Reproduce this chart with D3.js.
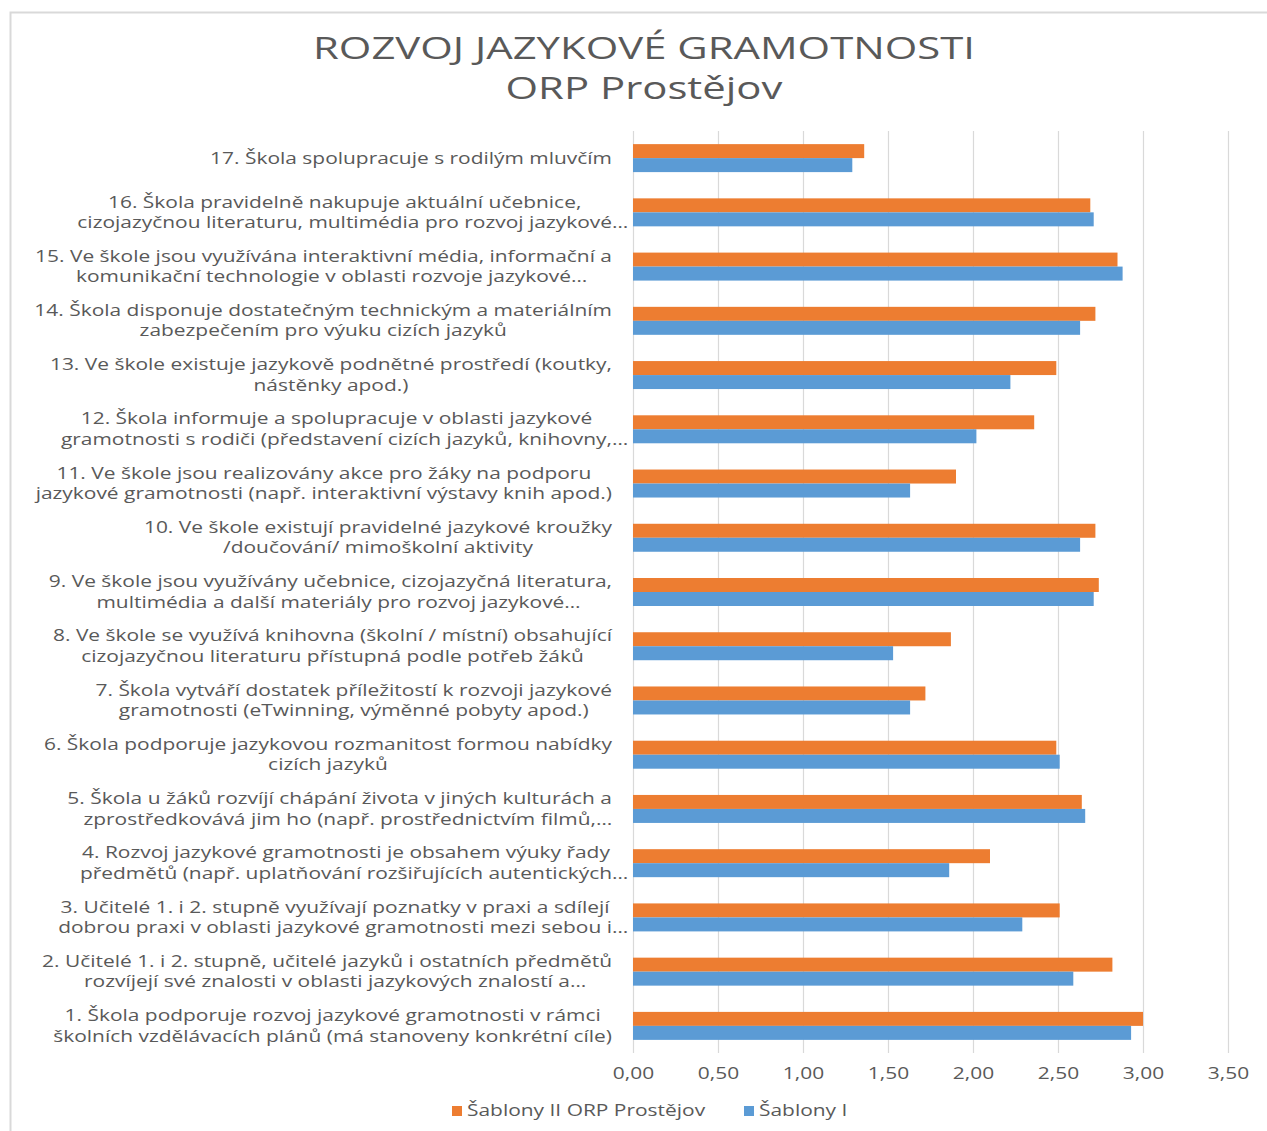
<!DOCTYPE html>
<html>
<head>
<meta charset="utf-8">
<script src="https://cdn.jsdelivr.net/npm/d3@7"></script>
<style>
  html, body { margin: 0; padding: 0; background: #ffffff; }
  svg { display: block; }
</style>
</head>
<body>
<svg id="chart" width="1267" height="1131"></svg>
<script>
// ---- data (item 1 .. item 17) ----
const categories = [
  "1. Škola podporuje rozvoj jazykové gramotnosti v rámci\nškolních vzdělávacích plánů (má stanoveny konkrétní cíle)",
  "2. Učitelé 1. i 2. stupně, učitelé jazyků i ostatních předmětů\nrozvíjejí své znalosti v oblasti jazykových znalostí a…",
  "3. Učitelé 1. i 2. stupně využívají poznatky v praxi a sdílejí\ndobrou praxi v oblasti jazykové gramotnosti mezi sebou i…",
  "4. Rozvoj jazykové gramotnosti je obsahem výuky řady\npředmětů (např. uplatňování rozšiřujících autentických…",
  "5. Škola u žáků rozvíjí chápání života v jiných kulturách a\nzprostředkovává jim ho (např. prostřednictvím filmů,…",
  "6. Škola podporuje jazykovou rozmanitost formou nabídky\ncizích jazyků",
  "7. Škola vytváří dostatek příležitostí k rozvoji jazykové\ngramotnosti (eTwinning, výměnné pobyty apod.)",
  "8. Ve škole se využívá knihovna (školní / místní) obsahující\ncizojazyčnou literaturu přístupná podle potřeb žáků",
  "9. Ve škole jsou využívány učebnice, cizojazyčná literatura,\nmultimédia a další materiály pro rozvoj jazykové…",
  "10. Ve škole existují pravidelné jazykové kroužky\n/doučování/ mimoškolní aktivity",
  "11. Ve škole jsou realizovány akce pro žáky na podporu\njazykové gramotnosti (např. interaktivní výstavy knih apod.)",
  "12. Škola informuje a spolupracuje v oblasti jazykové\ngramotnosti s rodiči (představení cizích jazyků, knihovny,…",
  "13. Ve škole existuje jazykově podnětné prostředí (koutky,\nnástěnky apod.)",
  "14. Škola disponuje dostatečným technickým a materiálním\nzabezpečením pro výuku cizích jazyků",
  "15. Ve škole jsou využívána interaktivní média, informační a\nkomunikační technologie v oblasti rozvoje jazykové…",
  "16. Škola pravidelně nakupuje aktuální učebnice,\ncizojazyčnou literaturu, multimédia pro rozvoj jazykové…",
  "17. Škola spolupracuje s rodilým mluvčím"
];
const sablonyII = [3.00, 2.82, 2.51, 2.10, 2.64, 2.49, 1.72, 1.87, 2.74, 2.72, 1.90, 2.36, 2.49, 2.72, 2.85, 2.69, 1.36];
const sablonyI  = [2.93, 2.59, 2.29, 1.86, 2.66, 2.51, 1.63, 1.53, 2.71, 2.63, 1.63, 2.02, 2.22, 2.63, 2.88, 2.71, 1.29];
const seriesNames = ["Šablony II ORP Prostějov", "Šablony I"];
const seriesColors = ["#ED7D31", "#5B9BD5"];
const tickValues = [0, 0.5, 1, 1.5, 2, 2.5, 3, 3.5];
const titleLines = ["ROZVOJ JAZYKOVÉ GRAMOTNOSTI", "ORP Prostějov"];

// ---- layout ----
const svg = d3.select("#chart");
const W = 1267, H = 1131;
const plot = { left: 633, right: 1228, top: 131, bottom: 1053 };
const textColor = "#595959";
const font = "'Open Sans', 'Noto Sans', sans-serif";
const stretchX = 1.35; // reference text is horizontally stretched

function stretch(sel, f) {
  sel.each(function () {
    const len = this.getComputedTextLength();
    d3.select(this).attr("textLength", len * f).attr("lengthAdjust", "spacingAndGlyphs");
  });
}

// chart border (extends past right/bottom edge as in the reference)
svg.append("rect")
  .attr("x", 10.5).attr("y", 12.5)
  .attr("width", W + 20).attr("height", H + 20)
  .attr("fill", "#ffffff")
  .attr("stroke", "#d9d9d9").attr("stroke-width", 2);

// title
svg.append("g").selectAll("text")
  .data(titleLines).join("text")
  .attr("x", 644)
  .attr("y", (d, i) => 48 + i * 40)
  .attr("dy", "0.35em")
  .attr("text-anchor", "middle")
  .attr("font-family", font)
  .attr("font-size", 31)
  .attr("fill", textColor)
  .text(d => d)
  .call(stretch, stretchX);

// scales
const x = d3.scaleLinear().domain([0, 3.5]).range([plot.left, plot.right]);
const y = d3.scaleBand()
  .domain(categories.slice().reverse())
  .range([plot.top, plot.bottom])
  .paddingInner(0.484)
  .paddingOuter(0.242);
const ySub = d3.scaleBand().domain([0, 1]).range([0, y.bandwidth()]);

// gridlines
const grid = svg.append("g")
  .attr("transform", `translate(0,${plot.bottom})`)
  .call(d3.axisBottom(x).tickValues(tickValues).tickSize(-(plot.bottom - plot.top)).tickFormat(""));
grid.select(".domain").remove();
grid.selectAll(".tick line").attr("stroke", "#d9d9d9").attr("stroke-width", 1.2);

// axis labels
const loc = d3.formatLocale({ decimal: ",", thousands: " ", grouping: [3], currency: ["", ""] });
const fmt = loc.format(".2f");
const ax = svg.append("g")
  .attr("transform", `translate(0,${plot.bottom})`)
  .call(d3.axisBottom(x).tickValues(tickValues).tickSize(0).tickPadding(15).tickFormat(fmt));
ax.select(".domain").remove();
ax.selectAll("text")
  .attr("font-family", font)
  .attr("font-size", 15.5)
  .attr("fill", textColor)
  .call(stretch, stretchX);

// bars
const rows = categories.map((c, i) => ({ cat: c, vals: [sablonyII[i], sablonyI[i]] }));
const rowG = svg.append("g").selectAll("g")
  .data(rows).join("g")
  .attr("transform", d => `translate(0,${y(d.cat)})`);
rowG.selectAll("rect")
  .data(d => d.vals.map((v, k) => ({ v, k })))
  .join("rect")
  .attr("x", x(0))
  .attr("y", d => ySub(d.k))
  .attr("width", d => x(d.v) - x(0))
  .attr("height", ySub.bandwidth())
  .attr("fill", d => seriesColors[d.k]);

// category labels
const labelRight = 612;
const lineGap = 20.5;
const labG = svg.append("g");
// width of the ellipsis glyph (Excel centres lines without it)
const tmp = labG.append("text").attr("font-family", font).attr("font-size", 15.5).text("…");
const ellW = tmp.node().getComputedTextLength() * stretchX;
tmp.remove();

categories.forEach(c => {
  const lines = c.split("\n");
  const cy = y(c) + y.bandwidth() / 2;
  const g = labG.append("g");
  const texts = g.selectAll("text").data(lines).join("text")
    .attr("y", (d, i) => cy + (i - (lines.length - 1) / 2) * lineGap)
    .attr("dy", "0.35em")
    .attr("text-anchor", "start")
    .attr("font-family", font)
    .attr("font-size", 15.5)
    .attr("fill", textColor)
    .text(d => d)
    .call(stretch, stretchX);
  const core = [];
  texts.each(function (d) {
    const w = +this.getAttribute("textLength");
    core.push(d.endsWith("…") ? w - ellW : w);
  });
  const maxW = d3.max(core);
  const center = labelRight - maxW / 2;
  texts.attr("x", (d, i) => center - core[i] / 2);
});

// legend
const legend = svg.append("g").attr("transform", "translate(0,1111)");
const legX = [452, 744];
seriesNames.forEach((n, i) => {
  legend.append("rect")
    .attr("x", legX[i]).attr("y", -5)
    .attr("width", 10).attr("height", 10)
    .attr("fill", seriesColors[i]);
  legend.append("text")
    .attr("x", legX[i] + 15).attr("y", 0)
    .attr("dy", "0.35em")
    .attr("font-family", font)
    .attr("font-size", 15.5)
    .attr("fill", textColor)
    .text(n)
    .call(stretch, stretchX);
});
</script>
</body>
</html>
